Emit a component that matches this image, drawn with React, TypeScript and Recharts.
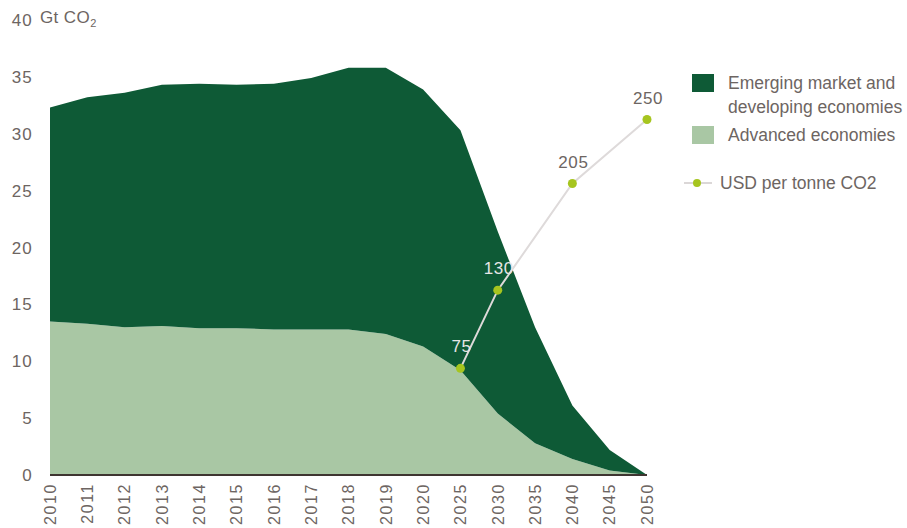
import React from 'react';
import { ComposedChart, Area, Line, XAxis, YAxis, LabelList } from 'recharts';

const years = ['2010', '2011', '2012', '2013', '2014', '2015', '2016', '2017', '2018', '2019', '2020', '2025', '2030', '2035', '2040', '2045', '2050'];
const advanced = [13.5, 13.3, 13.0, 13.1, 12.9, 12.9, 12.8, 12.8, 12.8, 12.4, 11.3, 9.2, 5.4, 2.8, 1.4, 0.4, 0];
const emerging = [18.8, 19.9, 20.6, 21.2, 21.5, 21.4, 21.6, 22.1, 23.0, 23.4, 22.6, 21.1, 16.0, 10.2, 4.7, 1.8, 0];
const price: (number | null)[] = [null, null, null, null, null, null, null, null, null, null, null, 75, 130, null, 205, null, 250];
const yTicks = [0, 5, 10, 15, 20, 25, 30, 35, 40];

const DARK = '#0e5a36';
const LIGHT = '#a9c7a4';
const DOT = '#a6c51f';
const TEXT = '#6d6562';

const data = years.map((y, i) => ({
  year: y,
  advanced: advanced[i],
  emerging: emerging[i],
  price: price[i],
}));

const font = '"Liberation Sans", Arial, sans-serif';

const XTick = ({ x, y, payload }: any) => (
  <g transform={`translate(${x},${y})`}>
    <text transform="rotate(-90)" x={-8} y={0} dy="0.36em" textAnchor="end" fill={TEXT} fontSize={16} letterSpacing={1.6} fontFamily={font}>
      {payload.value}
    </text>
  </g>
);

const YTick = ({ x, y, payload }: any) => (
  <text x={x + 2} y={y} dy="0.36em" textAnchor="end" fill={TEXT} fontSize={17} letterSpacing={1.2} fontFamily={font}>
    {payload.value}
  </text>
);

const PriceLabel = ({ x, y, value }: any) => {
  if (value == null) return null;
  const onDark = value < 150;
  return (
    <text x={x + 1} y={y - 16} textAnchor="middle" fill={onDark ? '#e6e6e6' : TEXT} fontSize={17} letterSpacing={0.6} fontFamily={font}>
      {value}
    </text>
  );
};

const legendRow: React.CSSProperties = {
  display: 'flex',
  alignItems: 'flex-start',
  color: TEXT,
  fontSize: 17.5,
  lineHeight: '24px',
  whiteSpace: 'nowrap',
};

export default function App() {
  return (
    <div style={{ position: 'absolute', left: 0, top: 0, width: 907, height: 528, background: '#fff', fontFamily: font, overflow: 'hidden' }}>
      <ComposedChart width={907} height={528} data={data} margin={{ top: 20, right: 260, left: 0, bottom: 0 }}>
        <XAxis
          dataKey="year"
          height={53}
          tick={<XTick />}
          tickLine={false}
          tickSize={0}
          tickMargin={0}
          interval={0}
          axisLine={{ stroke: '#3e3531', strokeWidth: 2 }}
        />
        <YAxis
          yAxisId="left"
          domain={[0, 40]}
          ticks={yTicks}
          width={50}
          axisLine={false}
          tickLine={false}
          tickSize={0}
          tickMargin={19}
          tick={<YTick />}
        />
        <YAxis yAxisId="price" orientation="right" domain={[0, 320]} hide />
        <Area yAxisId="left" type="linear" dataKey="advanced" stackId="1" fill={LIGHT} fillOpacity={1} stroke="none" isAnimationActive={false} name="Advanced economies" />
        <Area yAxisId="left" type="linear" dataKey="emerging" stackId="1" fill={DARK} fillOpacity={1} stroke="none" isAnimationActive={false} name="Emerging market and developing economies" />
        <Line
          yAxisId="price"
          type="linear"
          dataKey="price"
          connectNulls
          stroke="#dedada"
          strokeWidth={2}
          dot={{ r: 4.5, fill: DOT, stroke: 'none' }}
          isAnimationActive={false}
          name="USD per tonne CO2"
        >
          <LabelList dataKey="price" content={<PriceLabel />} />
        </Line>
      </ComposedChart>

      <div style={{ position: 'absolute', left: 40, top: 8, color: TEXT, fontSize: 17, letterSpacing: 0.4 }}>
        Gt CO<sub style={{ fontSize: 11 }}>2</sub>
      </div>

      <div style={{ position: 'absolute', left: 692, top: 71, width: 215 }}>
        <div style={legendRow}>
          <span style={{ width: 22, height: 18, background: DARK, marginTop: 3, marginRight: 14, flex: 'none' }} />
          <span>Emerging market and<br />developing economies</span>
        </div>
        <div style={{ ...legendRow, marginTop: 4 }}>
          <span style={{ width: 22, height: 18, background: LIGHT, marginTop: 3, marginRight: 14, flex: 'none' }} />
          <span>Advanced economies</span>
        </div>
        <div style={{ ...legendRow, marginTop: 24, alignItems: 'center' }}>
          <svg width={36} height={22} style={{ marginLeft: -8, marginRight: 0, flex: 'none' }}>
            <line x1={0} y1={11} x2={28} y2={11} stroke="#cfcaca" strokeWidth={1.5} />
            <circle cx={13} cy={11} r={4} fill={DOT} />
          </svg>
          <span>USD per tonne CO2</span>
        </div>
      </div>
    </div>
  );
}
